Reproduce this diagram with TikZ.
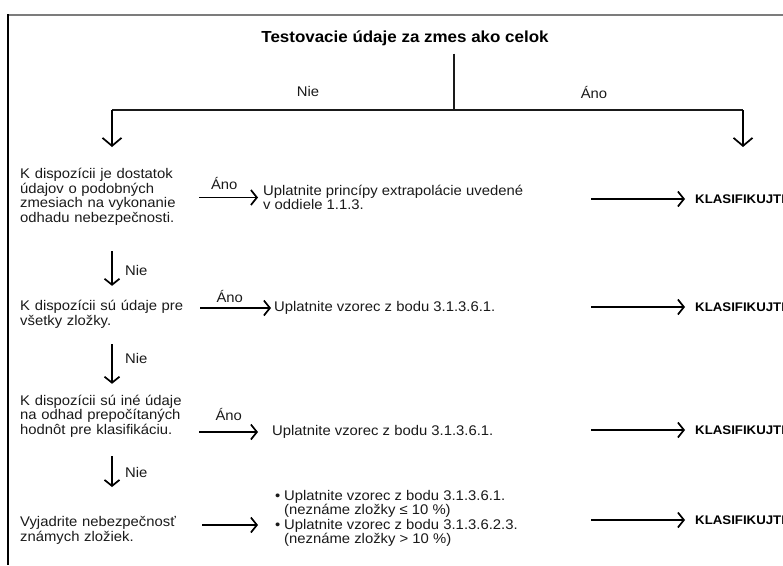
\documentclass[tikz,border=0pt]{standalone}
\usepackage{fontspec}
\setmainfont{Liberation Sans}[FakeStretch=1.06]
\usetikzlibrary{arrows.meta}
\definecolor{ink}{HTML}{1A1A1A}
\definecolor{rulegray}{HTML}{7C7C7C}
\tikzset{
  heading/.style={font=\bfseries\fontsize{16}{17}\selectfont,text=black,inner sep=0pt},
  query/.style={font=\fontsize{14}{14.5}\selectfont,text=ink,align=left,text width=165pt,anchor=west,inner sep=0pt},
  action/.style={font=\fontsize{14}{14.5}\selectfont,text=ink,align=left,anchor=west,inner sep=0pt},
  lbl/.style={font=\fontsize{14}{14.5}\selectfont,text=ink,inner sep=0pt},
  verdict/.style={font=\bfseries\fontsize{12.5}{14}\selectfont,text=black,anchor=west,inner sep=0pt},
  link/.style={draw=ink,line width=1.2pt},
  arr/.style={-{Straight Barb[length=6pt,width=15pt]},draw=black,line width=1.7pt},
  arrbig/.style={-{Straight Barb[length=8pt,width=19pt]},draw=black,line width=1.7pt}
}

\begin{document}
\begin{tikzpicture}[x=1pt,y=-1pt]
\clip (0,0) rectangle (783,565);
\fill[white] (0,0) rectangle (783,565);
% frame of the scanned page
\draw[rulegray,line width=2.4pt] (7,15) -- (783,15);
\draw[black,line width=2pt] (8,14) -- (8,565);

% first decision
\node[heading] (title) at (405,38) {Testovacie údaje za zmes ako celok};
\coordinate (fork) at (454,110);
\coordinate (forkL) at (112,110);
\coordinate (forkR) at (743,110);
\coordinate (endL) at (112,147);
\coordinate (endR) at (743,147);
\draw[link,shorten <=8pt] (title.south -| fork) -- (fork);
\draw[link] (forkL) -- (forkR);
\node[lbl] (nie0) at (308,91) {Nie};
\node[lbl] (ano0) at (594,92) {Áno};
\draw[arrbig] (forkL) -- (endL);
\draw[arrbig] (forkR) -- (endR);

% questions
\node[query] (q1) at (20,197) {K dispozícii je dostatok\\údajov o podobných\\zmesiach na vykonanie\\odhadu nebezpečnosti.};
\node[query] (q2) at (20,314.5) {K dispozícii sú údaje pre\\všetky zložky.};
\node[query] (q3) at (20,416) {K dispozícii sú iné údaje\\na odhad prepočítaných\\hodnôt pre klasifikáciu.};
\node[query] (q4) at (20,530.5) {Vyjadrite nebezpečnosť\\známych zložiek.};

% what to apply
\node[action] (a1) at (263,197.5) {Uplatnite princípy extrapolácie uvedené\\v oddiele 1.1.3.};
\node[action] (a2) at (274,308) {Uplatnite vzorec z bodu 3.1.3.6.1.};
\node[action] (a3) at (272,432) {Uplatnite vzorec z bodu 3.1.3.6.1.};
\node[action] (a4) at (275,518.5) {\makebox[9pt][l]{•}Uplatnite vzorec z bodu 3.1.3.6.1.\\\hspace*{9pt}(neznáme zložky ≤ 10~\%)\\\makebox[9pt][l]{•}Uplatnite vzorec z bodu 3.1.3.6.2.3.\\\hspace*{9pt}(neznáme zložky > 10~\%)};

% yes branches
\draw[arr,shorten <=14pt,shorten >=5pt] (q1.east |- a1.west) -- (a1.west) node[lbl,midway,above=7pt] {Áno};
\draw[arr,shorten <=15pt,shorten >=3pt] (q2.east |- a2.west) -- (a2.west) node[lbl,midway,above=5pt] {Áno};
\draw[arr,shorten <=14pt,shorten >=14pt] (q3.east |- a3.west) -- (a3.west) node[lbl,midway,above=11pt] {Áno};
\coordinate (m4) at ([yshift=5.5pt]q4.east);
\draw[arr,shorten <=17pt,shorten >=17pt] (m4) -- (m4 -| a4.west);

% no branches
\draw[arr,shorten <=25.6pt,shorten >=14.6pt] (q1.south -| forkL) -- (q2.north -| forkL);
\draw[arr,shorten <=15.6pt,shorten >=10.9pt] (q2.south -| forkL) -- (q3.north -| forkL);
\draw[arr,shorten <=18.8pt,shorten >=29.5pt] (q3.south -| forkL) -- (q4.north -| forkL);
\node[lbl,anchor=west] (nie1) at (125,270) {Nie};
\node[lbl,anchor=west] (nie2) at (125,358) {Nie};
\node[lbl,anchor=west] (nie3) at (125,472) {Nie};

% classify
\foreach \i/\y in {1/199,2/307,3/430,4/520}{
  \node[verdict] (k\i) at (695,\y) {KLASIFIKUJTE};
  \draw[arr,shorten >=10pt] ([xshift=-104pt]k\i.west) -- (k\i.west);
}
\end{tikzpicture}
\end{document}
